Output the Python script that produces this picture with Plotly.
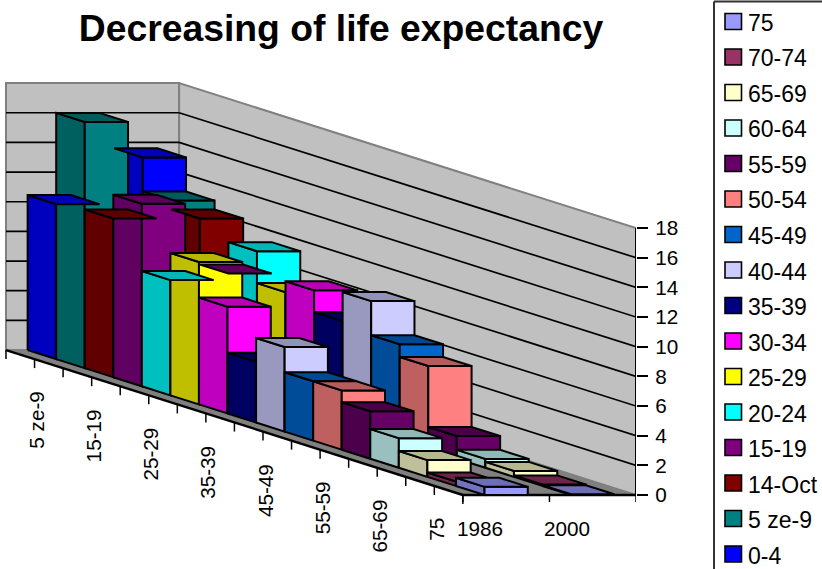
import plotly.graph_objects as go

categories = ["0-4", "5 ze-9", "14-Oct", "15-19", "20-24", "25-29", "30-34", "35-39",
              "40-44", "45-49", "50-54", "55-59", "60-64", "65-69", "70-74", "75"]
values_1986 = [10.45, 16.6, 10.7, 12.3, 7.77, 9.6, 7.2, 4.1, 5.7, 4.0, 4.0, 3.2, 2.0, 1.13, 0.3, 0.55]
values_2000 = [13.6, 11.3, 10.7, 7.6, 9.72, 7.57, 8.3, 6.84, 8.8, 6.5, 5.64, 1.53, 0.6, 0.4, 0.1, 0.05]
years = ["1986", "2000"]
colors = ["#0000FF", "#008080", "#800000", "#800080", "#00FFFF", "#FFFF00", "#FF00FF", "#000080",
          "#CCCCFF", "#0066CC", "#FF8080", "#660066", "#CCFFFF", "#FFFFCC", "#993366", "#9999FF"]
axis_ticks = [0, 2, 4, 6, 8, 10, 12, 14, 16, 18]
category_label_every = 2

W, H = 822, 569
R_MARGIN = 186
PX_CAT_X, PX_CAT_Y, PX_Z, PX_SER = 28.6, 9.06, 14.83, 86.7
RX = PX_SER / PX_CAT_X      # one series step, in category-steps along x
KY = PX_CAT_Y / PX_Z        # one category step, in value units along y
N = len(categories)
Z_MAX = 18
BAR_GAP = 0.25


def proj(c, s, z):
    return c + s * RX, z + (N - c) * KY


def px_paper(x, y):
    return x / (W - R_MARGIN), 1 - y / H


def shade(hexc, f):
    r, g, b = (int(hexc[i:i + 2], 16) for i in (1, 3, 5))
    return "rgb(%d,%d,%d)" % (r * f, g * f, b * f)


fig = go.Figure()


def poly(pts, fill, line="black", lw=2.0, name=None):
    xs, ys = zip(*[proj(*p) for p in pts + pts[:1]])
    fig.add_trace(go.Scatter(x=xs, y=ys, mode="lines", fill="toself", fillcolor=fill,
                             line=dict(color=line, width=lw, shape="linear"),
                             hoverinfo="skip", showlegend=False, cliponaxis=False, name=name))


def seg(a, b, color="black", lw=1.7):
    xs, ys = zip(proj(*a), proj(*b))
    fig.add_trace(go.Scatter(x=xs, y=ys, mode="lines", line=dict(color=color, width=lw),
                             hoverinfo="skip", showlegend=False, cliponaxis=False))


# walls and floor
poly([(0, 0, 0), (0, 2, 0), (0, 2, Z_MAX), (0, 0, Z_MAX)], "#C0C0C0", "#808080", 2)
poly([(0, 2, 0), (N, 2, 0), (N, 2, Z_MAX), (0, 2, Z_MAX)], "#C0C0C0", "#808080", 2)
poly([(0, 0, 0), (N, 0, 0), (N, 2, 0), (0, 2, 0)], "#808080", "#808080", 1)
for z in axis_ticks[1:-1]:
    seg((0, 0, z), (0, 2, z))
    seg((0, 2, z), (N, 2, z))
seg((N, 2, 0), (N, 2, Z_MAX), lw=2)
seg((0, 0, 0), (N, 0, 0), lw=2.4)
seg((N, 0, 0), (N, 2, 0), lw=2.4)


def face_side(c, s0, z, col, name):
    poly([(c, s0, 0), (c + 1, s0, 0), (c + 1, s0, z), (c, s0, z)], shade(col, 0.75), name=name)


def face_front(c, s0, s1, z, col, name):
    poly([(c + 1, s0, 0), (c + 1, s1, 0), (c + 1, s1, z), (c + 1, s0, z)], col, name=name)


def face_top(c, s0, s1, z, col, name):
    poly([(c, s0, z), (c + 1, s0, z), (c + 1, s1, z), (c, s1, z)], shade(col, 0.72), name=name)


series = [values_1986, values_2000]
late_tops = [(0, 0), (2, 0), (4, 0), (0, 1), (2, 1), (3, 1)]
for c in range(N):
    for i in (1, 0):
        s0, s1 = i + BAR_GAP, i + 1 - BAR_GAP
        z = series[i][c]
        name = "%s %s" % (categories[c], years[i])
        face_side(c, s0, z, colors[c], name)
        face_front(c, s0, s1, z, colors[c], name)
        if (c, i) not in late_tops:
            face_top(c, s0, s1, z, colors[c], name)
for c, i in late_tops:
    face_top(c, i + BAR_GAP, i + 1 - BAR_GAP, series[i][c], colors[c], categories[c])

# category-axis ticks (drop straight down from the floor edge)
ann = []
TICK_Z = 9 / PX_Z
for c in range(N + 1):
    seg((c, 0, 0), (c, 0, -TICK_Z), lw=1.5)
for c in range(1, N, category_label_every):
    x, y = proj(c, 0, 0)
    ann.append(dict(x=x, y=y, text=categories[c], textangle=-90, showarrow=False,
                    xanchor="center", yanchor="top", xshift=2, yshift=-30,
                    font=dict(size=20.7)))
for i in range(len(years) + 1):
    seg((N, i, 0), (N, i, -7 / PX_Z), lw=1.5)
for i, yr in enumerate(years):
    x, y = proj(N, i + 0.5, 0)
    ann.append(dict(x=x, y=y, text=yr, showarrow=False, xanchor="center", yanchor="middle",
                    xshift=-26, yshift=-33, font=dict(size=20.7)))

# legend, newest category on top
shapes = []
lx, ly = px_paper(714, 1.5)
x2, _ = px_paper(W + 2, 0)
_, y2 = px_paper(0, H + 2)
shapes.append(dict(type="line", xref="paper", yref="paper", x0=lx, x1=lx, y0=ly, y1=y2,
                   line=dict(color="#333333", width=2)))
shapes.append(dict(type="line", xref="paper", yref="paper", x0=lx, x1=x2, y0=ly, y1=ly,
                   line=dict(color="#333333", width=2)))
for k, c in enumerate(range(N - 1, -1, -1)):
    cy = 21.5 + k * 35.5
    a = px_paper(725, cy - 8)
    b = px_paper(741.5, cy + 8)
    shapes.append(dict(type="rect", xref="paper", yref="paper", x0=a[0], y0=a[1], x1=b[0], y1=b[1],
                       fillcolor=colors[c], line=dict(color="black", width=1.6)))
    t = px_paper(745.5, cy + 1.5)
    ann.append(dict(xref="paper", yref="paper", x=t[0], y=t[1], text=categories[c], showarrow=False,
                    xanchor="left", yanchor="middle", font=dict(size=23)))

fig.update_layout(
    width=W, height=H, autosize=False,
    margin=dict(l=0, r=R_MARGIN, t=0, b=0, pad=0),
    paper_bgcolor="white", plot_bgcolor="white",
    font=dict(family="Liberation Sans, Arial, sans-serif", color="black"),
    title=dict(text="<b>Decreasing of life expectancy</b>", x=341 / W, xanchor="center",
               y=1 - 28 / H, yanchor="middle", font=dict(size=37.3)),
    xaxis=dict(range=[proj(0, 0, 0)[0] - 6 / PX_CAT_X, proj(N, 2, 0)[0]], visible=False, fixedrange=True),
    yaxis=dict(range=[(495 - H) / PX_Z, 495 / PX_Z], side="right", tickmode="array",
               tickvals=axis_ticks, ticks="outside", ticklen=11, tickwidth=2, tickcolor="black",
               showgrid=False, zeroline=False, showline=False, tickfont=dict(size=20.7),
               ticklabelstandoff=3, fixedrange=True),
    shapes=shapes, annotations=ann, showlegend=False,
)
fig.write_html("out.html", config={"displayModeBar": False},
               post_script="document.body.style.margin='0';document.documentElement.style.overflow='hidden';")
